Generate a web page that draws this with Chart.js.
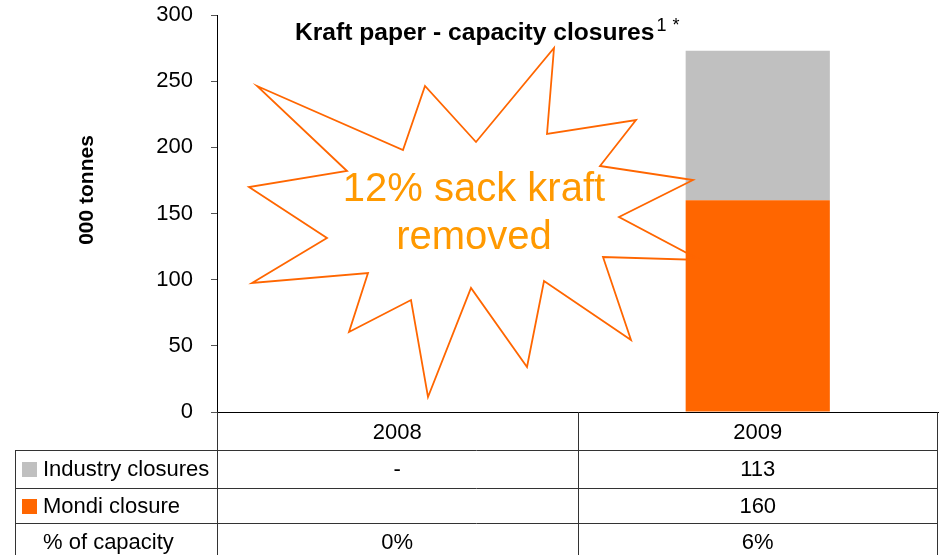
<!DOCTYPE html>
<html>
<head>
<meta charset="utf-8">
<script src="https://cdn.jsdelivr.net/npm/chart.js@4.4.1/dist/chart.umd.min.js"></script>
<style>
	body { margin: 0; background: #fff; }
	canvas { display: block; }
</style>
</head>
<body>
<canvas id="myChart" width="941" height="555"></canvas>
<script>
	// data
	var years = ["2008", "2009"];
	var mondiClosure = [null, 160];
	var industryClosures = [null, 113];
	var pctCapacity = ["0%", "6%"];
	var yTicks = [0, 50, 100, 150, 200, 250, 300];

	var FONT = "'Liberation Sans', Arial, sans-serif";
	var ORANGE = "#FF6600";
	var GREY = "#C0C0C0";

	// starburst callout (decoration, canvas pixels)
	var star = [[257,86],[403,150],[425,86],[476,142],[554,48],[547,134],[636,120],[600,166],
		[693,180],[619,217],[700,260],[603,257],[631,340],[544,281],[527,367],[471,288],
		[428,397],[411,300],[349,332],[368,273],[252,283],[327,238],[249,187],[347,171]];

	var tablePlugin = {
		id: "tablePlugin",
		afterDatasetsDraw: function(chart) {
			var c = chart.ctx;
			c.save();
			c.strokeStyle = ORANGE;
			c.lineWidth = 1.8;
			c.lineJoin = "miter";
			c.beginPath();
			star.forEach(function(p, i) {
				if (i == 0) c.moveTo(p[0], p[1]); else c.lineTo(p[0], p[1]);
			});
			c.closePath();
			c.stroke();
			c.fillStyle = "#FF9900";
			c.font = "40px " + FONT;
			c.textAlign = "center";
			c.textBaseline = "middle";
			c.fillText("12% sack kraft", 474, 190);
			c.fillText("removed", 474, 238);
			c.restore();
		},
		afterDraw: function(chart) {
			var c = chart.ctx;
			var area = chart.chartArea;
			var x = chart.scales.x;
			var bottom = chart.height;
			c.save();

			// title with superscript
			c.fillStyle = "#000";
			c.textBaseline = "alphabetic";
			c.textAlign = "left";
			c.font = "bold 24.6px " + FONT;
			var t = "Kraft paper - capacity closures";
			c.fillText(t, 295, 40);
			var w = c.measureText(t).width;
			c.font = "18px " + FONT;
			c.fillText("1", 295 + w + 2, 31);
			c.fillText("*", 295 + w + 18, 31);

			// y axis title
			c.save();
			c.translate(87, 190);
			c.rotate(-Math.PI / 2);
			c.font = "bold 21px " + FONT;
			c.textAlign = "center";
			c.textBaseline = "middle";
			c.fillText("000 tonnes", 0, 0);
			c.restore();

			// data table
			var rowTop = [450, 488, 523];
			var left = 15;
			var mid = Math.round((x.getPixelForValue(0) + x.getPixelForValue(1)) / 2);
			c.strokeStyle = "#333";
			c.lineWidth = 1;
			c.beginPath();
			rowTop.forEach(function(y) {
				c.moveTo(left, y + 0.5); c.lineTo(area.right, y + 0.5);
			});
			c.moveTo(left + 0.5, rowTop[0]); c.lineTo(left + 0.5, bottom);
			c.moveTo(area.left + 0.5, area.bottom); c.lineTo(area.left + 0.5, bottom);
			c.moveTo(mid + 0.5, area.bottom); c.lineTo(mid + 0.5, bottom);
			c.moveTo(area.right - 0.5, area.bottom); c.lineTo(area.right - 0.5, bottom);
			c.stroke();

			var rows = [
				{ label: "Industry closures", color: GREY, cells: industryClosures.map(function(v) { return v == null ? "-" : String(v); }) },
				{ label: "Mondi closure", color: ORANGE, cells: mondiClosure.map(function(v) { return v == null ? "" : String(v); }) },
				{ label: "% of capacity", color: null, cells: pctCapacity }
			];
			var centers = [469, 506, 542];
			c.font = "22px " + FONT;
			c.textBaseline = "middle";
			rows.forEach(function(r, i) {
				var cy = centers[i];
				if (r.color) {
					c.fillStyle = r.color;
					c.fillRect(22, cy - 7, 15, 15);
				}
				c.fillStyle = "#000";
				c.textAlign = "left";
				c.fillText(r.label, 43, cy + 1);
				c.textAlign = "center";
				r.cells.forEach(function(txt, j) {
					c.fillText(txt, x.getPixelForValue(j), cy + 1);
				});
			});
			c.restore();
		}
	};

	var ctx = document.getElementById("myChart");
	var myChart = new Chart(ctx, {
		type: "bar",
		data: {
			labels: years,
			datasets: [{
				label: "Mondi closure",
				data: mondiClosure,
				backgroundColor: ORANGE,
				borderWidth: 0
			}, {
				label: "Industry closures",
				data: industryClosures,
				backgroundColor: GREY,
				borderWidth: 0
			}]
		},
		options: {
			responsive: false,
			animation: false,
			devicePixelRatio: 1,
			layout: { padding: { top: 15, right: 3, bottom: 0, left: 0 } },
			datasets: { bar: { categoryPercentage: 1, barPercentage: 0.4 } },
			plugins: {
				legend: { display: false },
				title: { display: false },
				tooltip: { enabled: false }
			},
			scales: {
				x: {
					stacked: true,
					grid: { display: false },
					border: { color: "#000", width: 1 },
					ticks: { color: "#000", font: { size: 22, family: FONT }, padding: 0 },
					afterFit: function(s) { s.height = 143; }
				},
				y: {
					stacked: true,
					min: 0,
					max: 300,
					afterBuildTicks: function(s) { s.ticks = yTicks.map(function(v) { return { value: v }; }); },
					grid: { drawOnChartArea: false, drawTicks: true, tickLength: 6, color: "#555" },
					border: { color: "#000", width: 1 },
					ticks: { color: "#000", font: { size: 22, family: FONT }, padding: 18 },
					afterFit: function(s) { s.width = 217; s.paddingTop = 0; s.paddingBottom = 0; }
				}
			}
		},
		plugins: [tablePlugin]
	});
</script>
</body>
</html>
